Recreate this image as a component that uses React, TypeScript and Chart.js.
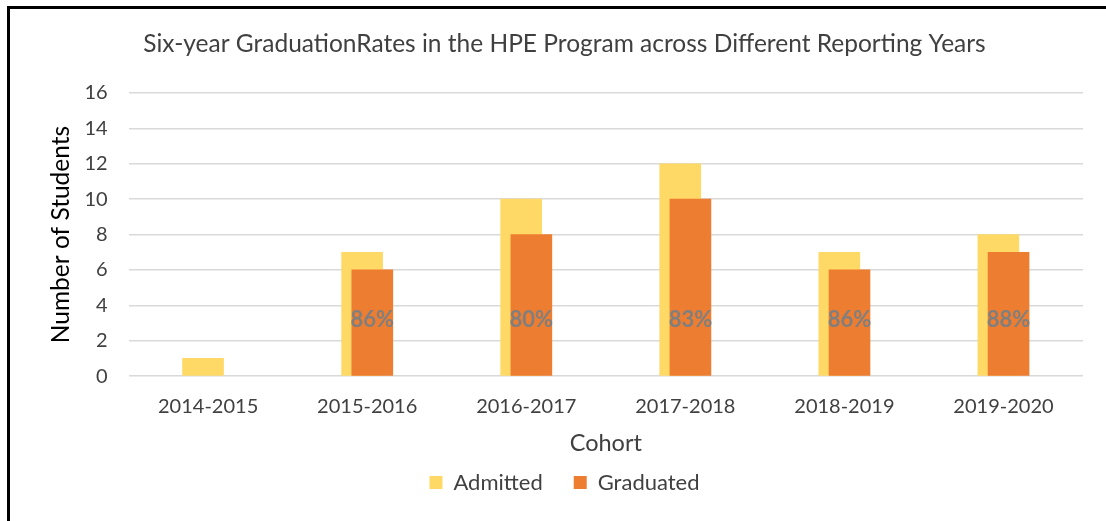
import React, { useEffect, useRef } from "react";
import { Chart, registerables } from "chart.js";

Chart.register(...registerables);

const chartTitle = "Six-year GraduationRates in the HPE Program across Different Reporting Years";
const cohorts = ["2014-2015", "2015-2016", "2016-2017", "2017-2018", "2018-2019", "2019-2020"];
const admitted = [1, 7, 10, 12, 7, 8];
const graduated: (number | null)[] = [null, 6, 8, 10, 6, 7];
const gradRates: (number | null)[] = [null, 86, 80, 83, 86, 88];
const yMax = 16;
const yStep = 2;

const FONT = "Lato";

export default function App() {
  const ref = useRef<HTMLCanvasElement>(null);

  useEffect(() => {
    if (!ref.current) return;
    Chart.defaults.font.family = FONT;
    const n = cohorts.length;
    const shift = 0.032; // half of bar offset, in category units
    const labelLevel = 3.2;

    const pctLabels = {
      id: "pctLabels",
      afterDatasetsDraw(chart: any) {
        const meta = chart.getDatasetMeta(1);
        const yScale = chart.scales.y;
        const ctx = chart.ctx;
        ctx.save();
        ctx.font = `bold 22px ${FONT}`;
        ctx.fillStyle = "#7F7F7F";
        ctx.textAlign = "center";
        ctx.textBaseline = "middle";
        gradRates.forEach((r, i) => {
          if (r == null) return;
          const el = meta.data[i];
          if (!el) return;
          ctx.fillText(`${r}%`, el.x, yScale.getPixelForValue(labelLevel));
        });
        ctx.restore();
      },
    };

    const chart = new Chart(ref.current, {
      type: "bar",
      data: {
        labels: cohorts,
        datasets: [
          {
            label: "Admitted",
            data: admitted.map((v, i) => ({ x: i, y: v })),
            backgroundColor: "#FFD966",
            xAxisID: "xa",
            yAxisID: "y",
            grouped: false,
            barThickness: 41,
            order: 1,
          } as any,
          {
            label: "Graduated",
            data: graduated.map((v, i) => ({ x: i, y: v })),
            backgroundColor: "#ED7D31",
            xAxisID: "xg",
            yAxisID: "y",
            grouped: false,
            barThickness: 41,
            order: 0,
          } as any,
        ],
      },
      options: {
        animation: false,
        responsive: false,
        devicePixelRatio: 1,
        layout: { padding: { left: 46, right: 23, top: 0, bottom: 17.5 } },
        plugins: {
          title: {
            display: true,
            text: chartTitle,
            color: "#404040",
            font: { size: 24.5, weight: "normal" },
            padding: { top: 29, bottom: 34.6 },
          },
          legend: {
            position: "bottom",
            reverse: true,
            labels: {
              boxWidth: 13,
              boxHeight: 13,
              padding: 31,
              color: "#404040",
              font: { size: 22 },
            },
          },
          tooltip: { enabled: false },
        },
        scales: {
          x: {
            type: "category",
            position: "bottom",
            offset: true,
            grid: { display: false },
            border: { display: false },
            ticks: { padding: 10, color: "#404040", font: { size: 20 } },
            title: {
              display: true,
              text: "Cohort",
              color: "#404040",
              font: { size: 23.5 },
              padding: { top: 1.2, bottom: -17 },
            },
          },
          xa: {
            type: "linear",
            display: false,
            offset: false,
            min: -0.5 + shift,
            max: n - 0.5 + shift,
          },
          xg: {
            type: "linear",
            display: false,
            offset: false,
            min: -0.5 - shift,
            max: n - 0.5 - shift,
          },
          y: {
            type: "linear",
            min: 0,
            max: yMax,
            ticks: { stepSize: yStep, padding: 21, color: "#404040", font: { size: 20 } },
            grid: { color: "#D9D9D9", lineWidth: 1.5, drawTicks: false },
            border: { display: false },
            title: {
              display: true,
              text: "Number of Students",
              color: "#000000",
              font: { size: 24.5 },
              padding: { top: 0, bottom: -12 },
            },
          },
        } as any,
      },
      plugins: [pctLabels],
    });

    return () => chart.destroy();
  }, []);

  return (
    <div
      style={{
        position: "fixed",
        left: 0,
        top: 0,
        width: 1106,
        height: 521,
        background: "#ffffff",
        overflow: "hidden",
      }}
    >
      <div
        style={{
          position: "absolute",
          left: 7,
          top: 6,
          width: 1300,
          height: 700,
          borderTop: "3px solid #000",
          borderLeft: "3px solid #000",
        }}
      />
      <canvas ref={ref} width={1106} height={521} style={{ position: "absolute", left: 0, top: 0 }} />
    </div>
  );
}
